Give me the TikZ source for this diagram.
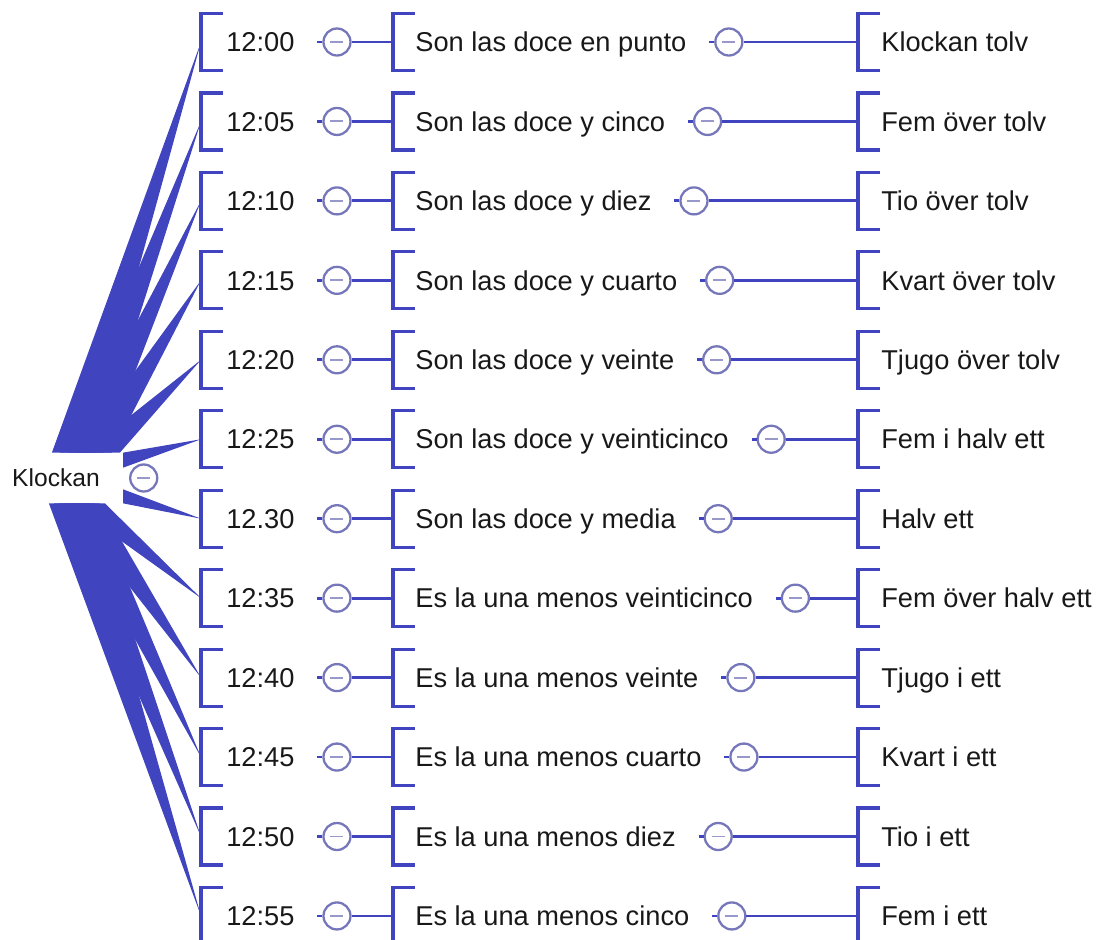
\documentclass[tikz,border=0pt]{standalone}
\usepackage{fontspec}
\setmainfont{Liberation Sans}
\usetikzlibrary{positioning,calc,backgrounds}

\definecolor{branch}{RGB}{64,68,190}
\definecolor{ring}{RGB}{118,118,186}
\definecolor{ink}{RGB}{24,24,24}

\tikzset{
    item/.style={anchor=west, inner sep=0pt, text height=11pt, text depth=0pt,
        font=\fontsize{15.5}{18}\selectfont, text=ink},
    root/.style={fill=white, inner xsep=0.08cm, inner ysep=0pt, minimum height=1cm,
        font=\fontsize{14}{16}\selectfont, text=ink},
    toggle/.style={circle, draw=ring, line width=1.3pt, fill=white, minimum size=0.54cm, inner sep=0pt,
        path picture={\draw[ring!75, line width=1.1pt]
            ($(path picture bounding box.center)+(-6.5,0)$) -- ($(path picture bounding box.center)+(6.5,0)$);}},
    link/.style={draw=branch, line width=1.6pt},
    sqbr/.pic={\draw[branch, line width=1.8pt] (22,-28.5) -- (0,-28.5) -- (0,28.5) -- (22,28.5);},
}

\begin{document}
\begin{tikzpicture}[x=0.02cm, y=-0.02cm] % clock times, es / sv
    \useasboundingbox (0,0) rectangle (1100,940);

    \node[root] (klockan) at (56,478) {Klockan};
    \node[toggle, right=0.5cm of klockan] (troot) {};

    \foreach \tm/\esp/\swe [count=\i] in {
        12:00/Son las doce en punto/Klockan tolv,
        12:05/Son las doce y cinco/Fem över tolv,
        12:10/Son las doce y diez/Tio över tolv,
        12:15/Son las doce y cuarto/Kvart över tolv,
        12:20/Son las doce y veinte/Tjugo över tolv,
        12:25/Son las doce y veinticinco/Fem i halv ett,
        12.30/Son las doce y media/Halv ett,
        12:35/Es la una menos veinticinco/Fem över halv ett,
        12:40/Es la una menos veinte/Tjugo i ett,
        12:45/Es la una menos cuarto/Kvart i ett,
        12:50/Es la una menos diez/Tio i ett,
        12:55/Es la una menos cinco/Fem i ett} {
        \pgfmathsetmacro\y{42+79.45*(\i-1)}
        \coordinate (br\i) at (201,\y);
        \coordinate (bes\i) at (393,\y);
        \coordinate (bsv\i) at (858,\y);
        \pic at (br\i) {sqbr};
        \pic at (bes\i) {sqbr};
        \pic at (bsv\i) {sqbr};

        \node[item, right=0.5cm of br\i] (time\i) {\tm};
        \node[toggle, right=0.55cm of time\i] (tt\i) {};
        \node[item, right=0.44cm of bes\i] (es\i) {\esp};
        \node[toggle, right=0.55cm of es\i] (te\i) {};
        \node[item, right=0.46cm of bsv\i] (sv\i) {\swe};

        \draw[link] (tt\i) -- (bes\i);
        \draw[link] (te\i) -- (bsv\i);
        \draw[link] (tt\i.west) -- ++(-5,0);
        \draw[link] (te\i.west) -- ++(-5,0);
    }

    \begin{scope}[on background layer]
        \foreach \i [evaluate=\i as \a using 36+8*\i] in {1,...,5}
            \fill[branch] ($(klockan.north west)+(\a,0)$) -- ($(klockan.north west)+(\a+36,0)$) -- (br\i) -- cycle;
        \foreach \i [evaluate=\i as \a using 101-5*\i] in {8,...,12}
            \fill[branch] ($(klockan.south west)+(\a,0)$) -- ($(klockan.south west)+(\a+36,0)$) -- (br\i) -- cycle;
        \fill[branch] ($(klockan.north east)+(19,0)$) -- ($(klockan.north east)+(19,15)$) -- (br6) -- cycle;
        \fill[branch] ($(klockan.south east)+(19,-14)$) -- ($(klockan.south east)+(19,0)$) -- (br7) -- cycle;
    \end{scope}
\end{tikzpicture}
\end{document}
